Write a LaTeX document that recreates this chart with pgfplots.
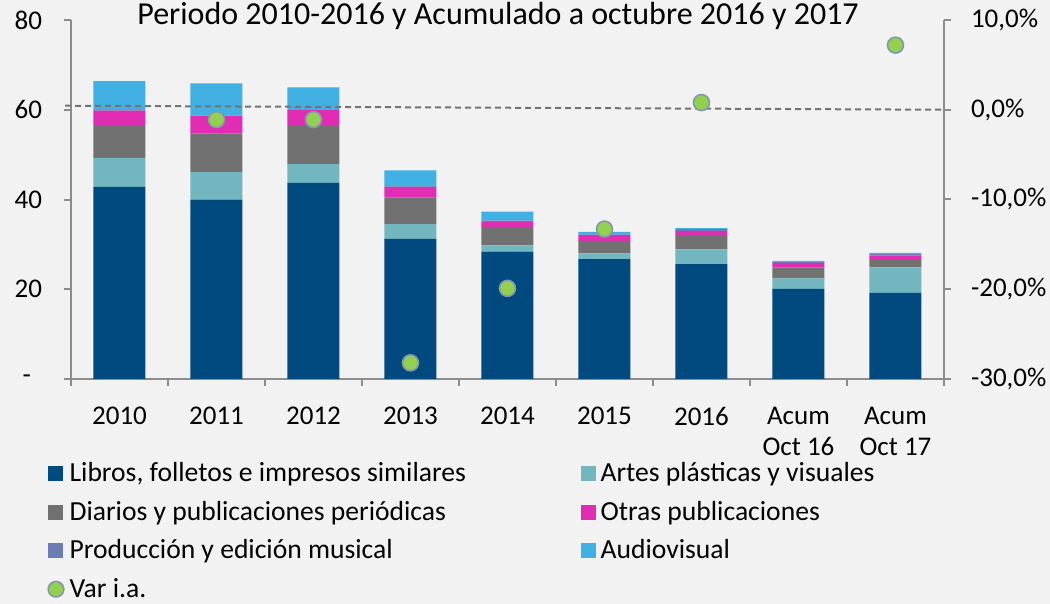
\documentclass[border=0pt]{standalone}
\usepackage{pgfplots}
\pgfplotsset{compat=1.18}
\usepackage{pgfplotstable}
\usepackage{fontspec}
\setmainfont{Carlito}
\definecolor{bg}{HTML}{F2F2F2}
\definecolor{cLib}{HTML}{004A7F}
\definecolor{cArt}{HTML}{72B6BF}
\definecolor{cDia}{HTML}{717171}
\definecolor{cOtr}{HTML}{E02DB4}
\definecolor{cMus}{HTML}{6B7DB3}
\definecolor{cAud}{HTML}{41B0E3}
\definecolor{cVar}{HTML}{92D050}
\definecolor{cVarE}{HTML}{8497B0}
\definecolor{axc}{HTML}{8C8C8C}
\pgfplotstableread{
x lib art dia otr mus aud
0 42.8 6.5 7.3 3.2 0.2 6.4
1 40.0 6.1 8.6 3.9 0.1 7.2
2 43.7 4.2 8.7 3.3 0.1 5.0
3 31.2 3.3 6.0 2.3 0.1 3.6
4 28.4 1.4 4.1 1.1 0.3 2.0
5 26.7 1.3 2.8 1.3 0.1 0.6
6 25.6 3.3 3.2 0.9 0.4 0.2
7 20.1 2.3 2.4 1.1 0.3 0.1
8 19.2 5.7 1.8 0.8 0.5 0.1
}\datatab
\pgfplotstableread{
x var
1 -1.1
2 -1.1
3 -28.2
4 -19.9
5 -13.3
6 0.8
8 7.2
}\vartab
\newcommand{\lf}{\fontsize{13.5}{17}\selectfont}
\newcommand{\xf}{\fontsize{13.5}{15.5}\selectfont}
\newcommand{\gf}{\fontsize{13.8}{17}\selectfont}
\begin{document}
\begin{tikzpicture}[font=\lf]
\path[use as bounding box, fill=bg] (-35.5pt,-112.5pt) rectangle (489.5pt,189.5pt);
\begin{axis}[
  at={(0,0)}, anchor=south west,
  scale only axis, width=436.5pt, height=179.5pt,
  ybar stacked, bar width=26pt,
  xmin=-0.5, xmax=8.5, ymin=0, ymax=80,
  axis y line*=left, axis x line*=bottom,
  axis line style={draw=axc, line width=1pt},
  tick align=outside, major tick length=0pt, minor tick length=3.5pt,
  every tick/.style={draw=axc, line width=1pt},
  xtick={0,...,8},
  xticklabels={2010,2011,2012,2013,2014,2015,2016,{Acum\\Oct 16},{Acum\\Oct 17}},
  xticklabel style={align=center, font=\xf, yshift=-10.5pt},
  minor xtick={-0.5,0.5,...,8.5},
  ytick={0,20,40,60,80},
  yticklabels={{\makebox[13.7pt][l]{\hspace{4pt}-}},20,40,60,80},
  minor ytick={0,20,40,60,80},
  yticklabel style={font=\lf, xshift=-11pt},
  legend columns=2,
  legend cell align=left,
  legend style={at={(-0.0275,-0.226)}, anchor=north west, draw=none, fill=none,
    inner sep=0pt, font=\gf, nodes={inner sep=1pt}, row sep=6.2pt},
  legend image code/.code={\fill[#1] (0pt,-3.75pt) rectangle (7.5pt,3.75pt);},
]
\addplot[fill=cLib, draw=none] table[x=x,y=lib]{\datatab};
\addlegendentry{\makebox[256pt][l]{\hspace{1.5pt}Libros, folletos e impresos similares}}
\addplot[fill=cArt, draw=none] table[x=x,y=art]{\datatab};
\addlegendentry{\hspace{1.5pt}Artes plásticas y visuales}
\addplot[fill=cDia, draw=none] table[x=x,y=dia]{\datatab};
\addlegendentry{\makebox[256pt][l]{\hspace{1.5pt}Diarios y publicaciones periódicas}}
\addplot[fill=cOtr, draw=none] table[x=x,y=otr]{\datatab};
\addlegendentry{\hspace{1.5pt}Otras publicaciones}
\addplot[fill=cMus, draw=none] table[x=x,y=mus]{\datatab};
\addlegendentry{\makebox[256pt][l]{\hspace{1.5pt}Producción y edición musical}}
\addplot[fill=cAud, draw=none] table[x=x,y=aud]{\datatab};
\addlegendentry{\hspace{1.5pt}Audiovisual}
\addlegendimage{legend image code/.code={\path[draw=cVarE, fill=cVar, line width=0.8pt] (3.75pt,0pt) circle (3.9pt);}}
\addlegendentry{\hspace{1.5pt}Var i.a.}
\end{axis}
\begin{axis}[
  at={(0,0)}, anchor=south west,
  scale only axis, width=436.5pt, height=179.5pt,
  xmin=-0.5, xmax=8.5, ymin=-30, ymax=10,
  axis y line*=right, axis x line=none,
  axis line style={draw=axc, line width=1pt},
  tick align=outside, major tick length=0pt, minor tick length=3.5pt,
  every tick/.style={draw=axc, line width=1pt},
  ytick={-30,-20,-10,0,10},
  yticklabels={{-30,0\%},{-20,0\%},{-10,0\%},{0,0\%},{10,0\%}},
  minor ytick={-30,-20,-10,0,10},
  yticklabel style={font=\lf, xshift=10pt},
  clip=false,
]
\addplot[draw=gray!90!black, line width=1pt, dash pattern=on 3pt off 2pt] coordinates {(-0.56,0.45) (8.5,0)};
\addplot[only marks, mark=*, mark size=4pt, mark options={fill=cVar, draw=cVarE, line width=0.8pt}] table[x=x,y=var]{\vartab};
\end{axis}
\node[anchor=base, inner sep=0pt, font=\fontsize{16}{19}\selectfont] at (213.5pt,177pt) {Periodo 2010-2016 y Acumulado a octubre 2016 y 2017};
\end{tikzpicture}
\end{document}
